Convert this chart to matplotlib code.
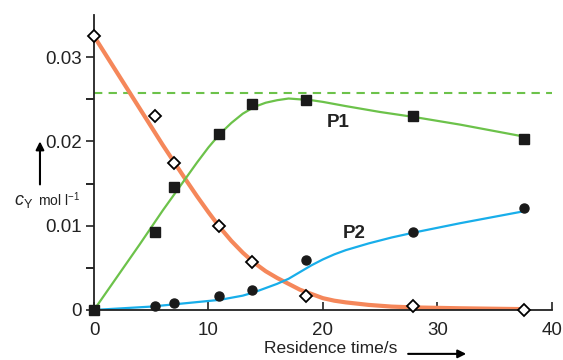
import matplotlib.pyplot as plt

plt.rcParams['font.family'] = ['Liberation Sans', 'DejaVu Sans']
plt.rcParams['mathtext.fontset'] = 'custom'
plt.rcParams['mathtext.rm'] = 'Liberation Sans'
plt.rcParams['mathtext.it'] = 'Liberation Sans:italic'

# measured points
t_meas = [0, 5.3, 7.0, 10.9, 13.8, 18.5, 27.9, 37.6]
reactant = [0.0325, 0.0230, 0.0174, 0.0100, 0.0057, 0.0017, 0.0005, 0.0000]
p1 = [0.0, 0.0093, 0.0146, 0.0209, 0.0244, 0.0249, 0.0230, 0.0203]
p2 = [0.0, 0.0005, 0.0008, 0.0017, 0.0024, 0.0059, 0.0092, 0.0121]

# fitted curves
t_fit_r = [0, 2, 4, 6, 8, 9, 10, 11, 12, 13, 14, 15, 16, 17, 18, 19, 20, 21, 22, 24, 26, 28, 32, 37.5]
fit_r = [0.0325, 0.0282, 0.0239, 0.0196, 0.0155, 0.0135, 0.0116, 0.0098, 0.0082, 0.0068,
         0.0056, 0.0046, 0.0038, 0.0031, 0.0024, 0.0019, 0.0014, 0.0011, 0.0009, 0.0006,
         0.0004, 0.0003, 0.0002, 0.0001]
t_fit_p1 = [0, 2, 4, 6, 8, 9, 10, 11, 12, 13, 14, 15, 16, 17, 18, 19, 20, 22, 25, 28, 32, 37.5]
fit_p1 = [0.0, 0.0039, 0.0078, 0.0118, 0.0156, 0.0175, 0.0193, 0.0209, 0.0222, 0.0233,
          0.0241, 0.0246, 0.0249, 0.0251, 0.0250, 0.0249, 0.0247, 0.0242, 0.0235, 0.0229,
          0.0220, 0.0206]
t_fit_p2 = [0, 5, 8, 11, 13, 14, 15, 16, 17, 18, 19, 20, 21, 22, 23, 24, 26, 28, 32, 37.5]
fit_p2 = [0.0, 0.0004, 0.0008, 0.0012, 0.0017, 0.0021, 0.0026, 0.0031, 0.0037, 0.0045,
          0.0053, 0.0060, 0.0066, 0.0071, 0.0075, 0.0079, 0.0086, 0.0092, 0.0103, 0.0117]
p1_max = 0.0257

orange = '#f5875a'
green = '#6cc24a'
blue = '#18aeea'

fig = plt.figure(figsize=(5.63, 3.6), dpi=100)
ax = fig.add_axes([0.167, 0.139, 0.813, 0.819])

ax.axhline(p1_max, color=green, lw=1.5, ls=(0, (4, 3)))
ax.plot(t_fit_r, fit_r, color=orange, lw=3, solid_capstyle='butt', solid_joinstyle='round')
ax.plot(t_fit_p1, fit_p1, color=green, lw=1.6, solid_joinstyle='round')
ax.plot(t_fit_p2, fit_p2, color=blue, lw=1.6, solid_joinstyle='round')

ax.plot(t_meas, reactant, 'D', ms=6, mfc='white', mec='black', mew=1.3, clip_on=False, zorder=5)
ax.plot(t_meas, p1, 's', ms=6.5, color='#1a1a1a', clip_on=False, zorder=5)
ax.plot(t_meas, p2, 'o', ms=6.5, color='#1a1a1a', clip_on=False, zorder=5)

ax.text(21.3, 0.0222, 'P1', fontsize=13.5, fontweight='bold', ha='center', va='center', color='#222222')
ax.text(22.7, 0.0091, 'P2', fontsize=13.5, fontweight='bold', ha='center', va='center', color='#222222')

ax.set_xlim(0, 40)
ax.set_ylim(0, 0.035)
ax.set_xticks([0, 10, 20, 30, 40])
ax.set_yticks([0, 0.01, 0.02, 0.03])
ax.set_yticklabels(['0', '0.01', '0.02', '0.03'])
ax.set_yticks([0.005, 0.015, 0.025], minor=True)
ax.tick_params(axis='x', direction='in', length=6, width=1.2, pad=9, labelsize=13.5, colors='#222222')
ax.tick_params(axis='y', direction='out', length=6, width=1.2, pad=3, labelsize=13.5, colors='#222222')
ax.tick_params(axis='y', which='minor', direction='out', length=6, width=1.2)
for s in ['top', 'right']:
    ax.spines[s].set_visible(False)
for s in ['left', 'bottom']:
    ax.spines[s].set_linewidth(1.3)
    ax.spines[s].set_color('#222222')

# axis labels with arrows
fig.text(0.588, 0.01, 'Residence time/s', fontsize=12.5, ha='center', va='bottom', color='#222222')
ax.annotate('', xy=(0.833, 0.017), xytext=(0.72, 0.017), xycoords='figure fraction',
            arrowprops=dict(arrowstyle='-|>', color='black', lw=1.5, mutation_scale=12))
fig.text(0.042, 0.44, r'$c_{\mathrm{Y}}$', fontsize=13, ha='center', va='center', color='#222222')
fig.text(0.104, 0.445, r'mol l$^{-1}$', fontsize=10, ha='center', va='center', color='#222222')
ax.annotate('', xy=(0.071, 0.615), xytext=(0.071, 0.48), xycoords='figure fraction',
            arrowprops=dict(arrowstyle='-|>', color='black', lw=1.5, mutation_scale=12))

fig.savefig('out.png', dpi=100)
